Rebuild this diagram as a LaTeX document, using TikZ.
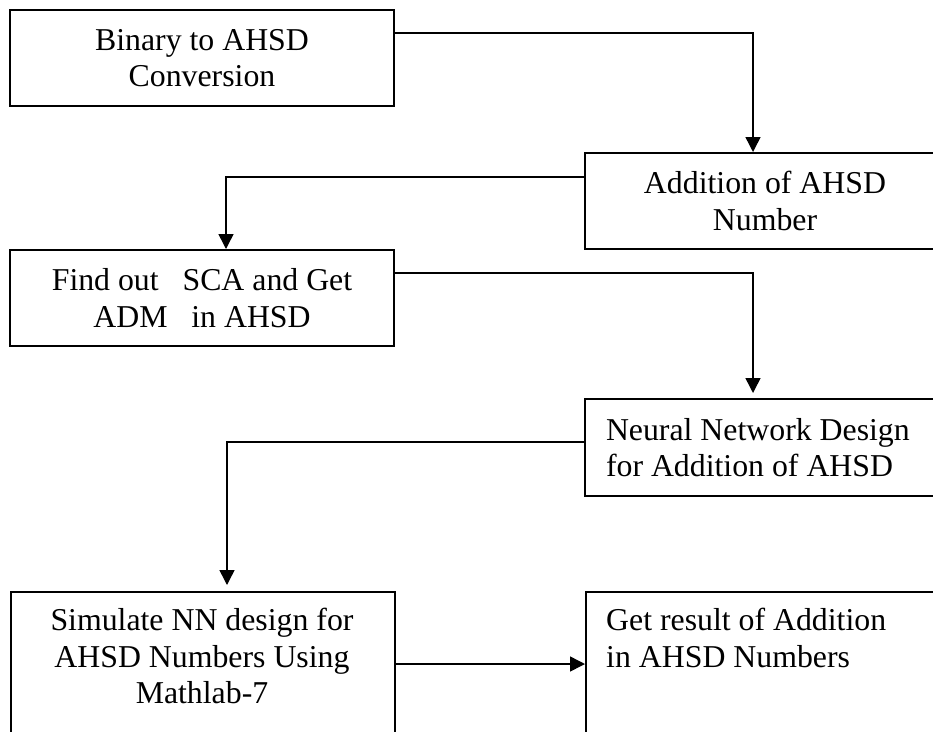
\documentclass[tikz,border=0pt]{standalone}
\usepackage{fontspec}
\setmainfont{Liberation Serif}
\usetikzlibrary{arrows.meta}
\begin{document}
\begin{tikzpicture}[x=1pt,y=-1pt,
  stepbox/.style={draw=black,line width=2pt,rectangle,inner sep=0pt,
    font=\fontsize{31.8}{36.5}\selectfont,align=center},
  lefttext/.style={align=flush left,inner xsep=21pt,text width=318pt},
  txt/.style={inner sep=0pt,font=\fontsize{31.8}{36.5}\selectfont},
  arr/.style={line width=1.5pt,-{Triangle[width=15pt,length=15pt]}}]
\useasboundingbox (0,0) rectangle (933,731);
\clip (0,0) rectangle (933,731);
\fill[white] (0,0) rectangle (933,731);

% process boxes
\node[stepbox,minimum width=384pt,minimum height=96pt] (b1) at (202,58)
  {Binary to AHSD\\Conversion};
\node[stepbox,minimum width=360pt,minimum height=96pt] (b2) at (765,201)
  {Addition of AHSD\\Number};
\node[stepbox,minimum width=384pt,minimum height=96pt] (b3) at (202,298)
  {Find out\ \ \ SCA and Get\\ADM\ \ \ in AHSD};
\node[stepbox,lefttext,minimum width=360pt,minimum height=97pt] (b4) at (765,447.5)
  {Neural Network Design\\for Addition of AHSD};
\node[stepbox,minimum width=384pt,minimum height=200pt,anchor=north west] (b5) at (10,591) {};
\node[stepbox,minimum width=360pt,minimum height=200pt,anchor=north west] (b6) at (585,591) {};
\node[txt,align=center,anchor=north] (t5) at (202,608)
  {Simulate NN design for\\AHSD Numbers Using\\Mathlab-7};
\node[txt,align=flush left,anchor=north west] (t6) at (606,608)
  {Get result of Addition\\in AHSD Numbers};

% connectors
\draw[arr] ([yshift=25pt]b1.east) -| ([xshift=-12pt]b2.north);
\draw[arr] ([yshift=24pt]b2.west) -| ([xshift=24pt]b3.north);
\draw[arr,shorten >=5pt] ([yshift=25pt]b3.east) -| ([xshift=-12pt]b4.north);
\draw[arr,shorten >=6pt] ([yshift=5.5pt]b4.west) -| ([xshift=24pt]b5.north);
\draw[arr] ([yshift=28pt]b5.east) -- ([yshift=28pt]b6.west);
\end{tikzpicture}
\end{document}
